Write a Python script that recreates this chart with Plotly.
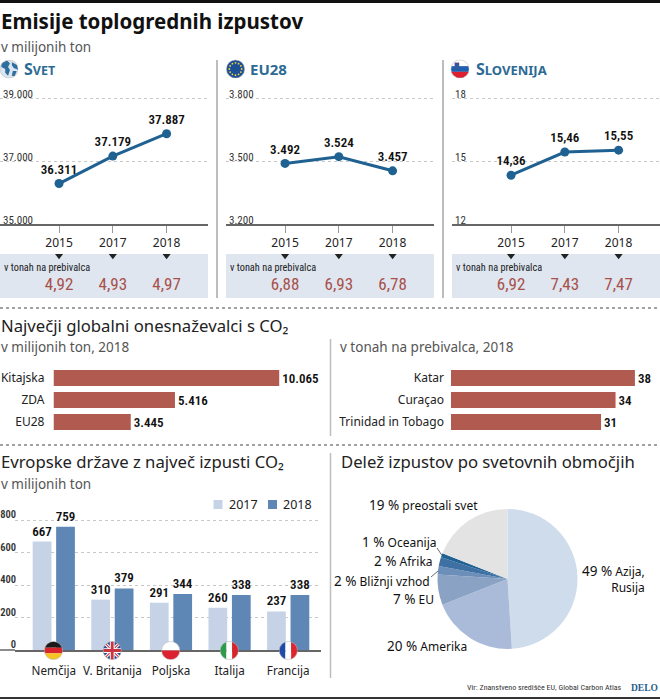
import base64
import plotly.graph_objects as go

W, H = 660, 699
NS = "Noto Sans"
NR = "'Roboto Condensed','Open Sans Condensed','Noto Sans Condensed','DejaVu Sans Condensed','Liberation Sans Narrow',Roboto"
INK = "#222222"
SUB = "#555555"
BLUE = "#1f6292"
RED = "#a8504a"
BAR_RED = "#b15a50"
C17 = "#c6d3e6"
C18 = "#5f87b5"

years = ["2015", "2017", "2018"]
world = [36311, 37179, 37887]
eu28 = [3492, 3524, 3457]
slovenia = [14.36, 15.46, 15.55]
world_pc = [4.92, 4.93, 4.97]
eu28_pc = [6.88, 6.93, 6.78]
slovenia_pc = [6.92, 7.43, 7.47]
world_ticks = [35000, 37000, 39000]
eu28_ticks = [3200, 3500, 3800]
slovenia_ticks = [12, 15, 18]

top_names = ["Kitajska", "ZDA", "EU28"]
top_values = [10065, 5416, 3445]
cap_names = ["Katar", "Curaçao", "Trinidad in Tobago"]
cap_values = [38, 34, 31]

countries = ["Nemčija", "V. Britanija", "Poljska", "Italija", "Francija"]
eur_2017 = [667, 310, 291, 260, 237]
eur_2018 = [759, 379, 344, 338, 338]
eur_ticks = [0, 200, 400, 600, 800]

regions = ["Azija, Rusija", "Amerika", "EU", "Bližnji vzhod", "Afrika", "Oceanija", "preostali svet"]
shares = [49, 20, 7, 2, 2, 1, 19]
share_colors = ["#cfdcec", "#a9bbd9", "#8aa3c4", "#6c8fb9", "#3e70a3", "#1f6292", "#e3e3e3"]


def fx(x):
    return x / W


def fy(y):
    return 1 - y / H


def dx(a, b):
    return [fx(a), fx(b)]


def dy(top, bottom):
    return [fy(bottom), fy(top)]


def svg_uri(body):
    svg = f'<svg xmlns="http://www.w3.org/2000/svg" viewBox="0 0 20 20"><defs><clipPath id="c"><circle cx="10" cy="10" r="9.6"/></clipPath></defs><g clip-path="url(#c)">{body}</g><circle cx="10" cy="10" r="9.6" fill="none" stroke="#bbbbbb" stroke-width="0.6"/></svg>'
    return "data:image/svg+xml;base64," + base64.b64encode(svg.encode()).decode()


def stripes_v(a, b, c):
    return f'<rect x="0" y="0" width="7" height="20" fill="{a}"/><rect x="7" y="0" width="6" height="20" fill="{b}"/><rect x="13" y="0" width="7" height="20" fill="{c}"/>'


def stripes_h(a, b, c):
    return f'<rect x="0" y="0" width="20" height="7" fill="{a}"/><rect x="0" y="7" width="20" height="6" fill="{b}"/><rect x="0" y="13" width="20" height="7" fill="{c}"/>'


uk = ('<rect width="20" height="20" fill="#2b4a8b"/>'
      '<path d="M0,0L20,20M20,0L0,20" stroke="#fff" stroke-width="3.4"/>'
      '<path d="M0,0L20,20M20,0L0,20" stroke="#c8343f" stroke-width="1.2"/>'
      '<path d="M10,0V20M0,10H20" stroke="#fff" stroke-width="5"/>'
      '<path d="M10,0V20M0,10H20" stroke="#c8343f" stroke-width="3"/>')
poland = '<rect width="20" height="10" fill="#ffffff"/><rect y="10" width="20" height="10" fill="#dc2030"/>'
globe = ('<rect width="20" height="20" fill="#dbe5f0"/>'
         '<path d="M2,4 L8,1 L11,4 L9,8 L11,11 L9,17 L6,14 L6,10 L2,8Z" fill="#2f6f9f"/>'
         '<path d="M13,3 L19,6 L20,11 L15,9 L13,6Z" fill="#2f6f9f"/>'
         '<path d="M14,12 L18,12 L16,18 L13,17Z" fill="#2f6f9f"/>')
eu_stars = "".join(
    f'<circle cx="{cx}" cy="{cy}" r="0.95" fill="#f2d43a"/>'
    for cx, cy in [(10, 3.5), (13.25, 4.37), (15.63, 6.75), (16.5, 10), (15.63, 13.25), (13.25, 15.63),
                   (10, 16.5), (6.75, 15.63), (4.37, 13.25), (3.5, 10), (4.37, 6.75), (6.75, 4.37)])
eu_flag = f'<rect width="20" height="20" fill="#1d4f96"/>{eu_stars}'
si_flag = ('<rect width="20" height="7" fill="#ffffff"/><rect y="7" width="20" height="6" fill="#1f5fae"/>'
           '<rect y="13" width="20" height="7" fill="#dc2030"/>'
           '<path d="M4.5,3.5H9V7.5L6.75,9L4.5,7.5Z" fill="#1f5fae" stroke="#c8343f" stroke-width="0.4"/>')

fig = go.Figure()

line_panels = [
    (world, world_pc, world_ticks, ",d", "%{y:,d}", (0, 208)),
    (eu28, eu28_pc, eu28_ticks, ",d", "%{y:,d}", (226, 434)),
    (slovenia, slovenia_pc, slovenia_ticks, "d", "%{y:.2f}", (452, 660)),
]
layout = {}
for i, (vals, pc, ticks, tf, tt, (left, right)) in enumerate(line_panels, start=1):
    strip = i + 3
    extra = (ticks[-1] - ticks[0]) * 20 / 126.5
    fig.add_trace(go.Scatter(
        x=years, y=vals, xaxis=f"x{i}", yaxis=f"y{i}", mode="lines+markers+text",
        line=dict(color=BLUE, width=3), marker=dict(color=BLUE, size=9),
        texttemplate=tt, textposition="top center", cliponaxis=False,
        textfont=dict(family=NR, size=13, color="#111111", weight=600), showlegend=False))
    fig.add_trace(go.Scatter(
        x=years, y=[0.96] * 3, xaxis=f"x{i}", yaxis=f"y{strip}", mode="markers",
        marker=dict(symbol="triangle-down", size=7, color="#222222"), cliponaxis=False, showlegend=False))
    fig.add_trace(go.Scatter(
        x=years, y=[0.27] * 3, xaxis=f"x{i}", yaxis=f"y{strip}", mode="text",
        text=[f"{v:.2f}".replace(".", ",") for v in pc], cliponaxis=False,
        textfont=dict(family=NR, size=17, color=RED), showlegend=False))
    layout[f"xaxis{i}"] = dict(
        domain=dx(left, right), anchor="free", position=fy(225), type="category", categoryorder="array",
        categoryarray=years, range=[-1.098, 2.77], showline=True, linecolor="#666666", linewidth=1.5,
        showgrid=False, ticks="outside", ticklen=7, tickcolor="#999999", tickwidth=1, ticklabelstandoff=0,
        tickfont=dict(family=NS, size=12, color=INK))
    layout[f"yaxis{i}"] = dict(
        domain=dy(78.5, 245), anchor=f"x{i}", range=[ticks[0] - extra, ticks[-1] + extra], tickvals=ticks,
        tickformat=tf, ticklabelposition="inside top", ticklabelshift=3, showgrid=True, gridcolor="#c9c9c9",
        griddash="dot", gridwidth=1, zeroline=False, showline=False, ticks="",
        tickfont=dict(family=NR, size=11, color="#333333"))
    layout[f"yaxis{strip}"] = dict(domain=dy(254, 298), anchor=f"x{i}", range=[0, 1], visible=False)

# horizontal bars
for xn, yn, names, vals, tf, span, xmax, standoff in [
    (4, 7, top_names, top_values, "%{x:,d}", (53.5, 320), 11884, 8),
    (5, 8, cap_names, cap_values, "%{x:d}", (451, 655), 42.15, 6),
]:
    fig.add_trace(go.Bar(
        x=vals, y=names, orientation="h", xaxis=f"x{xn}", yaxis=f"y{yn}", width=0.727,
        marker=dict(color=BAR_RED, line=dict(width=0)), texttemplate=tf, textposition="outside",
        cliponaxis=False, constraintext="none",
        textfont=dict(family=NR, size=13, color="#111111", weight=600), showlegend=False))
    layout[f"xaxis{xn}"] = dict(domain=dx(*span), anchor=f"y{yn}", range=[0, xmax], visible=False)
    layout[f"yaxis{yn}"] = dict(
        domain=dy(367, 433), anchor=f"x{xn}", type="category", categoryorder="array", categoryarray=names,
        range=[2.5, -0.5], showgrid=False, zeroline=False, showline=False, ticks="", ticklabelstandoff=standoff,
        tickfont=dict(family=NS, size=12, color=INK))

# grouped bars
for name, vals, col in [("2017", eur_2017, C17), ("2018", eur_2018, C18)]:
    fig.add_trace(go.Bar(
        x=countries, y=vals, name=name, xaxis="x6", yaxis="y9", showlegend=False,
        marker=dict(color=col, line=dict(width=0)), texttemplate="%{y:d}", textposition="outside",
        cliponaxis=False, constraintext="none",
        textfont=dict(family=NR, size=13, color="#111111", weight=600)))
layout["xaxis6"] = dict(
    domain=dx(15, 321), anchor="y9", type="category", categoryorder="array", categoryarray=countries,
    range=[-0.662, 4.56], showline=True, linecolor="#666666", linewidth=1.5, showgrid=False, ticks="",
    ticklabelstandoff=9, tickfont=dict(family=NS, size=11.7, color=INK))
layout["yaxis9"] = dict(
    domain=dy(507, 650), anchor="x6", range=[0, 800 * 143 / 130], tickvals=eur_ticks, ticklabelposition="outside top",
    ticklabelshift=2, ticklabelstandoff=-2, showgrid=True, gridcolor="#c9c9c9", griddash="dot", zeroline=False,
    showline=False, ticks="", tickfont=dict(family=NR, size=10.5, color="#333333", weight=600))

# pie
fig.add_trace(go.Pie(
    labels=regions, values=shares, sort=False, direction="clockwise", rotation=0, textinfo="none",
    marker=dict(colors=share_colors, line=dict(width=0)), showlegend=False,
    domain=dict(x=dx(437.5, 577.5), y=dy(509, 649))))


def note(x, y, text, size=12, color=INK, anchor="left", family=NS):
    return dict(xref="paper", yref="paper", x=fx(x), y=fy(y), xanchor=anchor, yanchor="middle", text=text,
                showarrow=False, align=anchor, font=dict(family=family, size=size, color=color), borderpad=0)


def caps(first, rest, size):
    return f"<b>{first}<span style='font-size:{size}px'>{rest}</span></b>"


annotations = [
    note(0, 21, "<b>Emisije toplogrednih izpustov</b>", 20.5, "#111111"),
    note(0, 47.5, "v milijonih ton", 13.5, SUB),
    note(23, 69.5, caps("S", "VET", 12.5), 16, "#2c6a95"),
    note(249, 69.5, "<b>EU28</b>", 15, "#2c6a95"),
    note(475, 69.5, caps("S", "LOVENIJA", 13), 16, "#2c6a95"),
    note(0, 325, "Največji globalni onesnaževalci s CO₂", 16.7, INK),
    note(0, 347, "v milijonih ton, 2018", 13.5, SUB),
    note(339, 347, "v tonah na prebivalca, 2018", 13.5, SUB),
    note(0, 461.5, "Evropske države z največ izpusti CO₂", 16.7, INK),
    note(0, 484, "v milijonih ton", 13.5, SUB),
    note(340, 461.5, "Delež izpustov po svetovnih območjih", 16.7, INK),
    note(623, 687.5, "Vir: Znanstveno središče EU, Global Carbon Atlas", 8, "#333333", anchor="right", family=NR),
    note(659, 687.5, "<b>DELO</b>", 9.5, "#1e5e8c", anchor="right", family="Liberation Serif"),
    note(228, 504.5, "2017", 12.5, INK),
    note(282, 504.5, "2018", 12.5, INK),
]
for left in (0, 226, 452):
    annotations.append(note(left + 3, 267.5, "v tonah na prebivalca", 10.3, "#222222", family=NR))


def share_label(i, name=None):
    return f"<span style='font-size:13.5px'>{shares[i]} %</span> {name or regions[i]}"


annotations += [
    note(646, 579, f"{share_label(0, 'Azija,')}<br>Rusija", 12, "#111111", anchor="right"),
    note(468, 646, share_label(1), 12, "#111111", anchor="right"),
    note(435, 599, share_label(2), 12, "#111111", anchor="right"),
    note(431, 581, share_label(3), 12, "#111111", anchor="right"),
    note(433.5, 561, share_label(4), 12, "#111111", anchor="right"),
    note(438, 542, share_label(5), 12, "#111111", anchor="right"),
    note(479, 505.5, share_label(6), 12, "#111111", anchor="right"),
]


def rect(x0, y0, x1, y1, color, layer="below"):
    return dict(type="rect", xref="paper", yref="paper", x0=fx(x0), x1=fx(x1), y0=fy(y0), y1=fy(y1),
                fillcolor=color, line=dict(width=0), layer=layer)


def seg(x0, y0, x1, y1, color, width=1, dash="solid"):
    return dict(type="line", xref="paper", yref="paper", x0=fx(x0), x1=fx(x1), y0=fy(y0), y1=fy(y1),
                line=dict(color=color, width=width, dash=dash), layer="above")


shapes = [
    rect(0, 0, 660, 3, "#111111"),
    rect(0, 697, 660, 699, "#333333"),
    rect(0, 254, 208, 298, "#dfe6f0"),
    rect(226, 254, 434, 298, "#dfe6f0"),
    rect(452, 254, 660, 298, "#dfe6f0"),
    rect(213.5, 500, 222.5, 509, C17),
    rect(268, 500, 277, 509, C18),
    seg(217, 60, 217, 298, "#bdbdbd", 2),
    seg(443, 60, 443, 298, "#bdbdbd", 2),
    seg(0, 308, 660, 308, "#444444", 1, "dot"),
    seg(0, 445, 660, 445, "#444444", 1, "dot"),
    seg(330.5, 339, 330.5, 436, "#bdbdbd", 1.5),
    seg(330.5, 453, 330.5, 678, "#bdbdbd", 1.5),
    seg(0, 650, 15, 650, "#666666", 1.5),
    seg(437, 548, 441.7, 555, "#444444", 0.8),
    seg(431, 577, 438, 571, "#444444", 0.8),
]


def img(cx, cy, r, body):
    return dict(source=svg_uri(body), xref="paper", yref="paper", x=fx(cx - r), y=fy(cy - r), sizex=2 * r / W,
                sizey=2 * r / H, xanchor="left", yanchor="top", sizing="stretch", layer="above")


images = [
    img(9, 69, 9.5, globe),
    img(235.5, 69, 9.5, eu_flag),
    img(460, 69, 9.5, si_flag),
    img(53.5, 650.5, 9.5, stripes_h("#1a1a1a", "#d8232a", "#f6c320")),
    img(112.2, 650.5, 9.5, uk),
    img(170.7, 650.5, 9.5, poland),
    img(229.3, 650.5, 9.5, stripes_v("#2f9a4a", "#ffffff", "#d8232a")),
    img(288.3, 650.5, 9.5, stripes_v("#1f4aa8", "#ffffff", "#e0242e")),
]

fig.update_layout(
    width=W, height=H, autosize=False, margin=dict(l=0, r=0, t=0, b=0, autoexpand=False), paper_bgcolor="white",
    plot_bgcolor="rgba(0,0,0,0)", separators=",.", barmode="group", bargap=0.2, bargroupgap=0.2,
    font=dict(family=NS, color=INK), annotations=annotations, shapes=shapes, images=images,
    showlegend=False, **layout)

fig.write_html("out.html", post_script="document.body.style.margin='0';", config={"displayModeBar": False})
